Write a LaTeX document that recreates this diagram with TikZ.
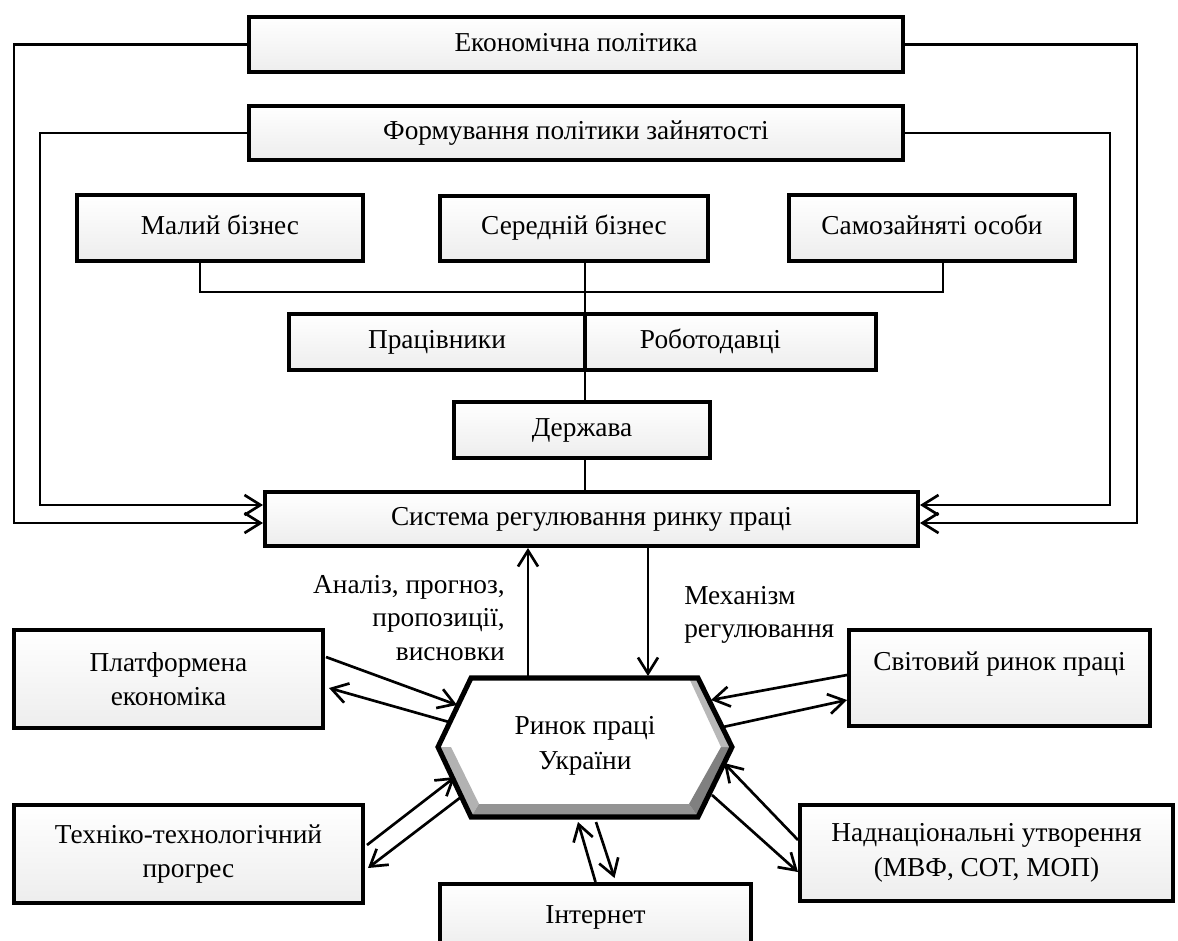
\documentclass[tikz,border=0pt]{standalone}
\usepackage{fontspec}
\setmainfont{Liberation Serif}
\usetikzlibrary{arrows.meta,calc,backgrounds}
\tikzset{
  boxbase/.style={draw, line width=3pt, top color=white, middle color=white, bottom color=black!7,
    inner sep=0pt, text=black, font=\fontsize{20.5}{26}\selectfont},
  box/.style={boxbase, text height=14pt, text depth=4pt},
  boxc/.style={boxbase, align=center},
  wh/.style n args={2}{minimum width={(#1-4)*0.75pt}, minimum height={(#2-4)*0.75pt}},
  conn/.style={line width=2pt},
  arr/.style={conn, -{Straight Barb[length=12pt,width=15pt]}},
  lbl/.style={inner sep=0pt, text=black, font=\fontsize{20.5}{25}\selectfont}
}
\begin{document}
\begin{tikzpicture}[x=0.75pt,y=-0.75pt]
\useasboundingbox (0,0) rectangle (1178,940);

% boxes
\node[box, wh={658}{59}] (econ) at (576,44.5) {Економічна політика};
\node[box, wh={658}{58}] (form) at (576,133) {Формування політики зайнятості};
\node[box, wh={290}{70}] (small) at (220,228) {Малий бізнес};
\node[box, wh={272}{69}] (medium) at (574,228) {Середній бізнес};
\node[box, wh={290}{70}] (selfemp) at (932,228) {Самозайняті особи};
\node[box, wh={300}{60}] (workers) at (437,342) {Працівники};
\node[box, wh={295}{60}] (employers) at (730.5,342) {\hspace*{-30pt}Роботодавці};
\node[box, wh={260}{60}] (state) at (582,430) {Держава};
\node[box, wh={657}{58}] (system) at (591.5,519) {Система регулювання ринку праці};
\node[boxc, wh={313}{102}] (platform) at (168.5,679) {Платформена\\економіка};
\node[boxc, wh={353}{102}] (tech) at (188.5,854) {Техніко-технологічний\\прогрес};
\node[box, wh={315}{70}] (internet) at (595.5,917) {Інтернет};
\node[boxc, wh={305}{100}] (world) at (999.5,678) {Світовий ринок праці\\\mbox{}};
\node[boxc, wh={377}{100}] (supra) at (986.5,853) {Наднаціональні утворення\\(МВФ, СОТ, МОП)};

% hexagon
\coordinate (hL) at (438,747);
\coordinate (hTL) at (471,678);
\coordinate (hTR) at (698,678);
\coordinate (hR) at (732,747);
\coordinate (hBR) at (698,817);
\coordinate (hBL) at (471,817);
\coordinate (iL) at (451,747);
\coordinate (iBL) at (479,804);
\coordinate (iBR) at (689,804);
\coordinate (iR) at (721,747);
\coordinate (iTR) at (689,678);
\fill[white] (hL)--(hTL)--(hTR)--(hR)--(hBR)--(hBL)--cycle;
\fill[black!30] (hL)--(hBL)--(iBL)--(iL)--cycle;
\fill[black!42] (hBL)--(hBR)--(iBR)--(iBL)--cycle;
\fill[black!50] (hBR)--(hR)--(iR)--(iBR)--cycle;
\fill[black!28] (hR)--(hTR)--(iTR)--(iR)--cycle;
\draw[line width=3.8pt, line join=miter] (hL)--(hTL)--(hTR)--(hR)--(hBR)--(hBL)--cycle;
\node[lbl, align=center, font=\fontsize{20.5}{26}\selectfont] (market) at (585,746) {Ринок праці\\України};

% labels
\node[lbl, align=right, anchor=east] (analysis) at (505,618) {Аналіз, прогноз,\\пропозиції,\\висновки};
\node[lbl, align=left, anchor=west] (mechlbl) at (684,615) {Механізм\\регулювання};

% spine and bus
\coordinate (spine) at (585,0);
\coordinate (bus) at (585,292);
\begin{pgfonlayer}{background}
\draw[conn] (medium.south -| spine) -- (system.north -| spine);
\end{pgfonlayer}
\draw[conn] ($(small.south)+(-20,0)$) |- (bus) -| ($(selfemp.south)+(11,0)$);

% outer feedback lines
\draw[arr] (econ.west) -| ($(system.west)+(-249,4)$) -- ($(system.west)+(0,4)$);
\draw[arr] (econ.east) -| ($(system.east)+(217,4)$) -- ($(system.east)+(0,4)$);
\draw[arr] (form.west) -| ($(system.west)+(-223,-14)$) -- ($(system.west)+(0,-14)$);
\draw[arr] (form.east) -| ($(system.east)+(190,-14)$) -- ($(system.east)+(0,-14)$);

% system <-> market
\coordinate (anUp) at (528,676);
\coordinate (mech) at (648,676);
\draw[arr] (anUp) -- (anUp |- system.south);
\draw[arr] (mech |- system.south) -- (mech);

% platform
\coordinate (pA) at (457,705);
\coordinate (pB) at (449,722);
\draw[arr] ($(platform.east)+(1,-22)$) -- (pA);
\draw[arr] (pB) -- ($(platform.east)+(4,9)$);

% tech
\coordinate (tA) at (455,777);
\coordinate (tB) at (461,797);
\draw[arr] ($(tech.east)+(2,-9)$) -- (tA);
\draw[arr] (tB) -- ($(tech.east)+(3,14)$);

% world
\coordinate (wA) at (711,700);
\coordinate (wB) at (723,727);
\draw[arr] ($(world.west)+(0,-3)$) -- (wA);
\draw[arr] (wB) -- ($(world.west)+(0,22)$);

% supra
\coordinate (sA) at (724,763);
\coordinate (sB) at (712,795);
\draw[arr] ($(supra.west)+(0,-13)$) -- (sA);
\draw[arr] (sB) -- ($(supra.west)+(0,19)$);

% internet
\coordinate (iUp) at (578,822);
\coordinate (iDn) at (596,822);
\draw[arr] (internet.north) -- (iUp);
\draw[arr] (iDn) -- ($(internet.north)+(19,-4)$);
\end{tikzpicture}
\end{document}
